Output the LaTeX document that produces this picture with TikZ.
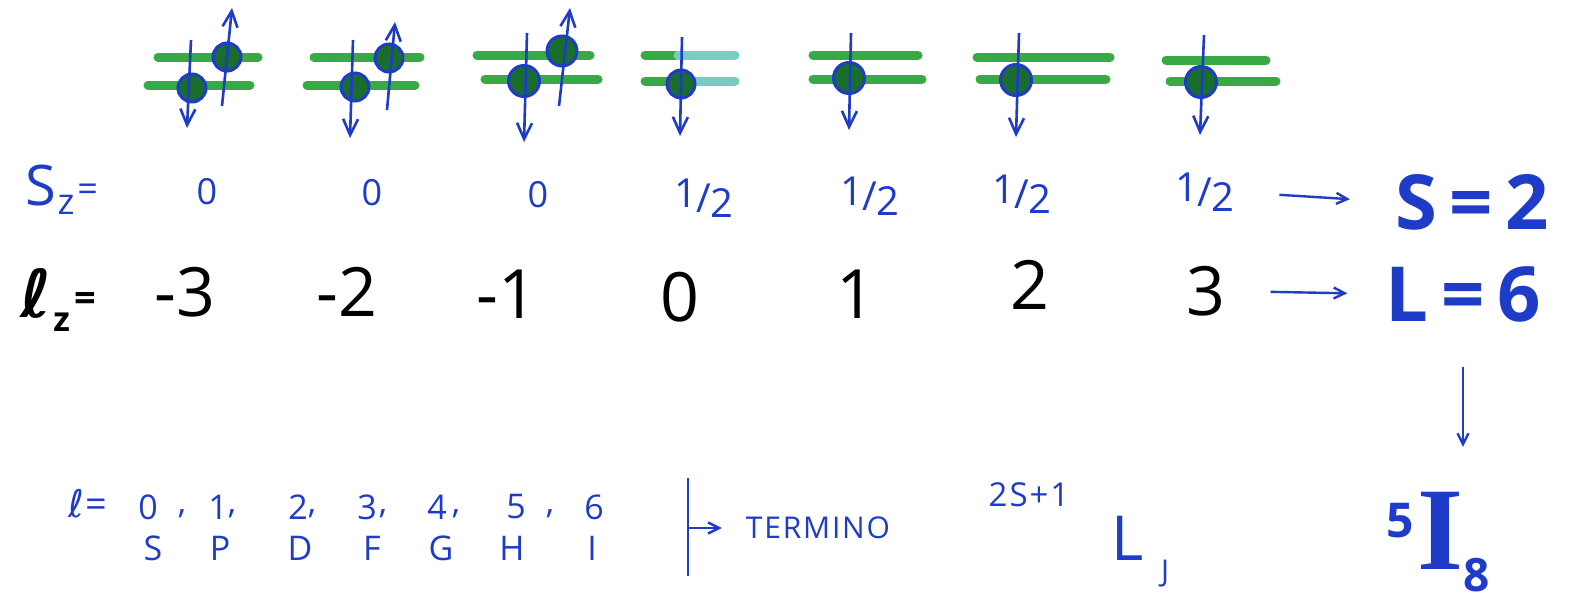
\documentclass[tikz,border=0pt]{standalone}
\usepackage{fontspec}
\setmainfont{Open Sans}
\newfontfamily\serifb{Liberation Serif}
\newfontfamily\dejavu{DejaVu Sans}
\usetikzlibrary{arrows.meta}
\definecolor{ink}{RGB}{30,60,200}
\definecolor{mk}{RGB}{55,170,70}
\definecolor{mkc}{RGB}{120,205,195}
\definecolor{dot}{RGB}{25,110,45}
\tikzset{
  level/.style={mk, line width=9pt, line cap=round},
  elec/.style={circle, draw=ink, line width=3pt, fill=dot, minimum size=28pt, inner sep=0pt},
  spin/.style={ink, line width=2.6pt, -{Straight Barb[length=16pt,width=15pt,line width=2.6pt]}},
  conn/.style={ink, line width=2.4pt, -{Straight Barb[length=11pt,width=11pt,line width=2.4pt]}},
  lzval/.style={font=\fontsize{68}{80}\selectfont, text=black, inner sep=0pt},
  szval/.style={font=\fontsize{36}{40}\selectfont, text=ink, inner sep=0pt},
  bigval/.style={font=\fontsize{76}{80}\selectfont\bfseries, text=ink, inner sep=0pt},
  small/.style={font=\fontsize{34}{38}\selectfont, text=ink, inner sep=0pt},
  tiny/.style={font=\fontsize{26}{30}\selectfont, text=ink, inner sep=0pt}
}
\newcommand{\half}{\raisebox{5pt}{1}\kern-1pt/\kern-1pt\raisebox{-5pt}{2}}
\newcommand{\myell}{{\dejavu ℓ}}
\begin{document}
\begin{tikzpicture}[x=1pt,y=-1pt]
\useasboundingbox[fill=white] (0,0) rectangle (1573,600);

% ---- orbital levels ----
\draw[level] (158,57) -- (258,57);  \draw[level] (148,85) -- (250,85);
\draw[level] (314,57) -- (420,57);  \draw[level] (307,85) -- (415,85);
\draw[level] (477,55) -- (590,55);  \draw[level] (485,79) -- (598,79);
\draw[level] (645,55) -- (676,55);  \draw[level] (645,81) -- (676,81);
\draw[level,mkc] (678,55) -- (735,55);  \draw[level,mkc] (678,81) -- (735,81);
\draw[level] (813,55) -- (918,55);  \draw[level] (813,79) -- (922,79);
\draw[level] (977,57) -- (1110,57); \draw[level] (980,79) -- (1106,79);
\draw[level] (1166,60) -- (1266,60); \draw[level] (1170,81) -- (1276,81);

% ---- electrons ----
\node[elec] (e1d) at (192,88) {};  \node[elec] (e1u) at (227,57) {};
\node[elec] (e2d) at (355,87) {};  \node[elec] (e2u) at (389,58) {};
\node[elec,minimum size=31pt] (e3d) at (524,81) {};  \node[elec,minimum size=30pt] (e3u) at (562,51) {};
\node[elec] (e4) at (681,84) {};
\node[elec,minimum size=31pt] (e5) at (849,78) {};
\node[elec,minimum size=31pt] (e6) at (1016,80) {};
\node[elec,minimum size=31pt] (e7) at (1201,82) {};

% ---- spins ----
\coordinate (a1s) at (191,40);  \coordinate (a1e) at (187,128);
\coordinate (b1s) at (222,106); \coordinate (b1e) at (232,8);
\coordinate (a2s) at (353,40);  \coordinate (a2e) at (350,138);
\coordinate (b2s) at (387,110); \coordinate (b2e) at (395,22);
\coordinate (a3s) at (527,33);  \coordinate (a3e) at (524,142);
\coordinate (b3s) at (559,106); \coordinate (b3e) at (570,8);
\coordinate (a4s) at (682,37);  \coordinate (a4e) at (680,136);
\coordinate (a5s) at (851,33);  \coordinate (a5e) at (849,130);
\coordinate (a6s) at (1019,33); \coordinate (a6e) at (1016,137);
\coordinate (a7s) at (1204,35); \coordinate (a7e) at (1200,135);
\foreach \p in {a1,b1,a2,b2,a3,b3,a4,a5,a6,a7}
  \draw[spin] (\p s) -- (\p e);

% ---- S_z row ----
\node[font=\fontsize{56}{60}\selectfont, text=ink, inner sep=0pt] (szlab) at (62,190)
  {S\kern1pt\raisebox{-9pt}{\fontsize{36}{38}\selectfont z}\kern3pt\raisebox{4pt}{\fontsize{36}{38}\selectfont =}};
\node[szval] (s1) at (207,192) {0};
\node[szval] (s2) at (372,193) {0};
\node[szval] (s3) at (538,195) {0};
\node[szval,font=\fontsize{40}{44}\selectfont] (s4) at (704,198) {\half};
\node[szval,font=\fontsize{40}{44}\selectfont] (s5) at (870,196) {\half};
\node[szval,font=\fontsize{40}{44}\selectfont] (s6) at (1022,194) {\half};
\node[szval,font=\fontsize{40}{44}\selectfont] (s7) at (1205,192) {\half};
\node[bigval] (S2) at (1472,202) {S\,=\,2};
\draw[conn, shorten <=45pt, shorten >=45pt] (s7.east) -- (S2.west);

% ---- l_z row ----
\node[font=\fontsize{66}{70}\selectfont\bfseries, text=black, inner sep=0pt] (lzlab) at (58,300)
  {\myell\kern2pt\raisebox{-14pt}{\fontsize{34}{36}\selectfont z}\kern4pt\raisebox{6pt}{\fontsize{38}{40}\selectfont =}};
\node[lzval] (l1) at (185,292) {-3};
\node[lzval] (l2) at (347,292) {-2};
\node[lzval] (l3) at (507,294) {-1};
\node[lzval] (l4) at (680,297) {0};
\node[lzval] (l5) at (856,294) {1};
\node[lzval] (l6) at (1030,285) {2};
\node[lzval] (l7) at (1206,291) {3};
\node[bigval] (L6) at (1463,294) {L\,=\,6};
\draw[conn, shorten <=45pt, shorten >=38pt] (l7.east) -- (L6.west);

% ---- term symbol ----
\node[text=ink, inner sep=0pt] (term) at (1438,542)
  {\raisebox{32pt}{\fontsize{48}{50}\selectfont\bfseries 5}\kern3pt{\serifb\fontsize{118}{120}\selectfont\bfseries I}\kern0pt\raisebox{-22pt}{\fontsize{46}{48}\selectfont\bfseries 8}};
\draw[conn, shorten <=45pt, shorten >=45pt] (L6.south) -- (L6.south |- term.north);

% ---- bottom: l values and letters ----
\node[small, font=\fontsize{38}{40}\selectfont] (lq) at (88,504) {\myell\kern1pt=};
\foreach \v/\x in {0/148,1/218,2/298,3/367,4/437,5/516,6/594}
  \node[small] (n\v) at (\x,507) {\v};
\foreach \x in {182,232,312,383,456,550}
  \node[small] at (\x,514) {,};
\foreach \c/\x in {S/153,P/220,D/300,F/372,G/441,H/512,I/592}
  \node[small] (c\c) at (\x,548) {\c};

\coordinate (bart) at (688,478);
\coordinate (barb) at (688,576);
\draw[ink, line width=2.4pt] (bart) -- (barb);
\node[tiny, font=\fontsize{30}{32}\selectfont\addfontfeature{LetterSpace=6}] (termino) at (818,528) {TERMINO};
\coordinate (barm) at (688,528);
\draw[conn, shorten >=24pt] (barm) -- (termino.west);

\node[tiny, font=\fontsize{33}{36}\selectfont\addfontfeature{LetterSpace=6}] (mult) at (1029,495) {2S+1};
\node[text=ink, font=\fontsize{62}{66}\selectfont, inner sep=0pt] (Lsym) at (1128,538) {L};
\node[tiny, font=\fontsize{30}{32}\selectfont] (Jsym) at (1165,574) {J};
\end{tikzpicture}
\end{document}
